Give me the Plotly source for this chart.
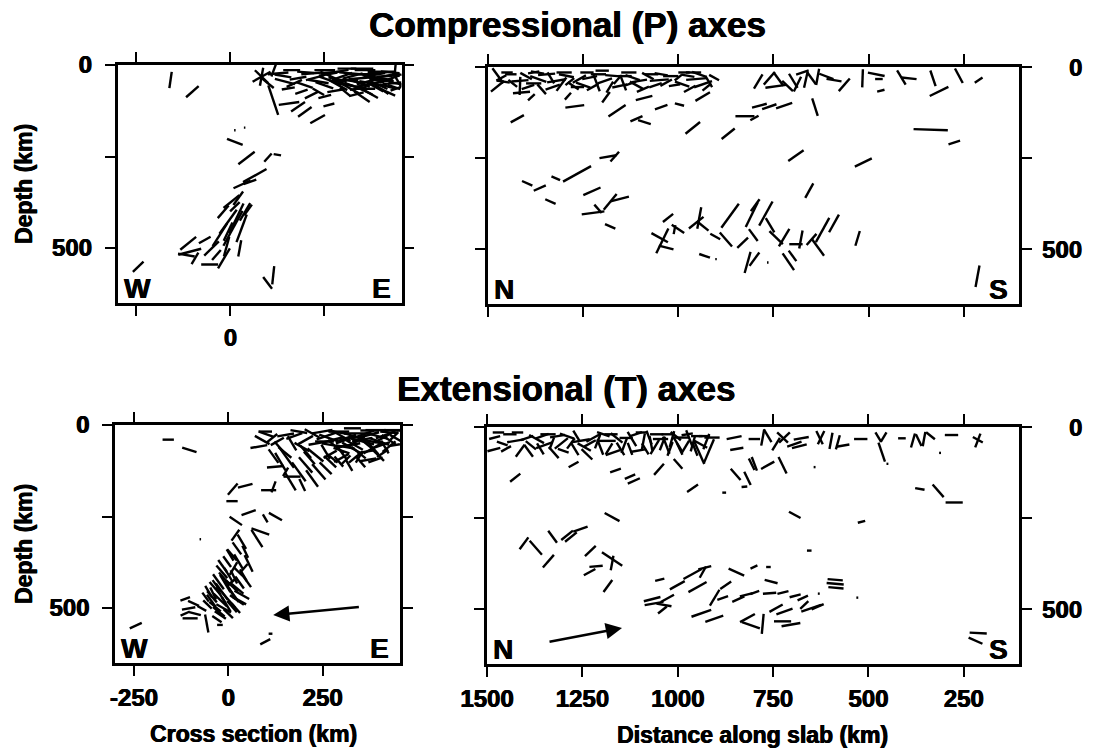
import math
import plotly.graph_objects as go

# ---------------- data (x or distance km, depth km, projected angle deg, length km) ----------
# Compressional (P) axes, cross section (W-E)
p_cross = [
    (127,23,5,55),(145,45,-15,55),(163,14,0,45),(180,36,10,45),(198,55,-20,45),(216,23,5,55),
    (234,45,-10,55),(251,14,0,55),(269,32,-25,65),(287,55,-30,55),(287,18,10,55),(305,41,0,70),
    (322,23,-5,65),(331,59,-20,55),(349,36,5,70),(358,14,0,55),(375,50,-10,65),(384,27,10,55),
    (402,41,-5,65),(411,18,0,55),(420,59,-15,45),(429,36,20,45),(438,14,85,35),(446,45,-60,35),
    (305,73,-40,35),(340,64,10,45),(234,73,-30,35),(154,64,10,35),(189,73,20,35),(251,86,15,35),
    (365,45,15,60),(395,55,-25,50),(420,30,5,60),(440,50,-10,40),(300,30,20,50),(330,45,-10,60),
    (260,40,-20,50),(355,70,-25,50),
    (270,20,5,60),(300,50,-15,60),(320,65,-30,50),(345,25,0,60),(360,55,10,60),(380,38,-20,60),
    (400,65,-35,50),(410,30,10,60),(430,50,5,50),(445,25,-10,30),(390,20,0,50),(310,10,0,50),
    (250,55,-20,50),(225,35,15,50),(200,20,-5,45),(170,50,25,45),(140,30,-10,45),(115,15,70,35),
    (100,50,-40,40),(375,80,-30,40),(420,75,-25,40),(335,80,15,40),(280,70,10,45),(440,65,20,30),
    (350,10,0,60),
    (260,25,10,50),(285,40,-15,50),(310,55,-10,55),(325,30,15,55),(345,50,-20,55),(370,25,0,55),
    (385,60,-30,50),(405,45,10,55),(425,20,-5,50),(435,60,-20,35),(395,35,-10,55),(360,65,0,50),
    (83,32,30,55),(83,32,-45,50),(83,32,80,50),(114,96,-72,85),(156,105,8,55),(180,114,35,45),
    (198,128,37,45),(232,148,30,45),(216,82,27,40),(262,109,15,30),(350,87,-35,50),
    (31,326,25,50),(65,302,30,72),(52,319,20,36),
    (-17,528,60,63),(7,446,62,108),(16,419,65,90),(-6,428,55,80),(-28,464,58,72),(30,446,70,80),
    (39,401,60,55),(3,373,40,55),(21,364,55,45),(-50,501,45,55),(-108,510,15,63),(-112,487,40,55),
    (-117,519,-10,45),(-55,545,0,45),(-94,528,60,36),(-10,496,75,55),(25,501,80,45),(-37,519,50,36),
    (-19,401,50,45),(47,396,55,36),(-68,478,30,36),(-6,455,65,55),(12,387,45,36),
    (-159,41,82,45),(-101,73,42,45),(12,178,0,4),(38,171,0,4),(12,210,-22,45),(43,254,38,55),
    (100,253,49,30),(125,245,-10,20),(-245,551,45,40),(99,595,-54,40),(114,574,84,50),
]

# Compressional (P) axes, distance along slab (N-S)
p_slab = [
    (1474,24,-55,50),(1475,53,40,45),
    (1416,38,5,45),(1416,52,88,50),(1412,70,5,45),(1368,33,-20,45),(1359,61,-50,35),(1346,20,5,45),
    (1320,38,10,50),(1307,47,55,45),(1294,24,-12,40),(1276,52,-35,35),(1233,29,12,40),(1215,43,-70,50),
    (1193,38,20,40),(1172,24,-5,40),(1154,52,12,40),(1145,43,-70,45),(1102,38,10,40),(1093,61,25,35),
    (1050,36,5,50),(1032,43,30,35),(990,47,-20,40),(952,33,5,55),(935,47,20,50),(906,29,-30,30),
    (1386,83,45,25),(1290,80,50,25),(1190,83,55,35),(1090,85,15,45),(1380,45,0,40),(1440,20,0,30),
    (1260,33,30,40),(1120,29,-20,40),(1070,20,0,35),(975,24,-10,35),(1000,29,40,25),
    (1460,40,-10,35),(1450,15,0,30),(1400,25,-30,35),(1330,55,20,40),(1250,50,-20,40),(1210,20,0,40),
    (1180,55,60,35),(1130,15,0,40),(1110,50,-30,40),(1060,50,20,35),(1020,25,0,40),(960,15,0,40),
    (920,40,-60,35),(970,60,30,35),(1380,15,10,30),(1240,15,0,35),
    (1465,30,30,30),(1435,45,-40,30),(1395,55,20,35),(1370,15,-10,35),(1335,30,-60,35),(1300,15,0,40),
    (1285,40,40,30),(1265,55,0,35),(1225,55,30,35),(1200,10,0,35),(1160,35,50,30),(1140,25,0,35),
    (1125,45,20,30),(1080,25,-30,35),(1045,20,-10,35),(1010,50,10,30),(985,15,0,30),(945,20,-20,40),
    (925,55,40,30),
    (1423,142,30,40),(1272,108,8,50),(1161,120,35,55),(1110,142,25,35),(1089,151,-18,35),
    (1045,110,20,35),(997,103,-15,25),(936,81,32,45),(962,167,40,50),(869,183,40,45),
    (825,135,0,50),(800,140,30,25),
    (1185,246,10,45),(1167,246,50,35),(1322,305,-25,25),(1266,293,30,85),(1397,319,-25,30),
    (1364,332,25,35),(1336,369,-25,30),(1227,341,25,50),(1224,400,8,60),(1211,389,-50,30),
    (1179,370,52,55),(1154,362,15,50),(1179,437,-25,30),
    (1049,468,-30,50),(1042,477,65,75),(1032,495,-15,40),(1027,414,40,35),(1001,444,-35,40),
    (1010,446,80,25),(945,414,80,60),(953,427,40,50),(936,436,-40,40),(931,518,-20,30),
    (901,527,0,4),(903,465,-30,30),(864,408,55,80),(875,473,-50,50),(831,482,45,40),
    (818,536,75,60),(807,405,65,75),
    (790,40,60,45),(761,31,50,45),(737,33,-55,45),(744,53,8,55),(713,52,-45,40),(698,38,-60,45),
    (687,47,65,45),(674,15,20,35),(665,35,78,45),(650,31,-55,40),(634,27,80,45),(611,26,-22,40),
    (591,36,-10,40),(564,49,50,45),(516,31,88,50),(480,20,-12,45),(473,33,0,20),(468,65,15,20),
    (414,29,-60,45),(394,31,-6,40),(331,31,-72,45),(315,67,27,55),(263,24,-63,45),(211,36,35,25),
    (787,106,15,40),(761,109,20,40),(722,106,20,45),(641,110,-73,50),
    (337,172,-2,90),(275,207,18,32),(691,243,36,50),(514,262,27,50),(656,339,62,45),(529,470,74,42),
    (798,379,55,40),(770,402,62,75),(759,434,-60,45),(743,468,-45,50),(803,461,-55,40),
    (722,468,60,55),(691,486,0,35),(678,473,80,50),(650,473,50,40),(633,495,-55,55),
    (621,447,62,75),(591,429,62,55),(800,527,55,45),(765,536,0,4),(711,534,-57,55),
    (700,518,-55,35),(214,574,80,60),
]

# Extensional (T) axes, cross section (W-E)
t_cross = [
    (-159,40,0,30),(-103,68,-18,40),(45,166,15,40),(12,175,50,40),(10,208,0,30),(-74,312,0,4),
    (54,239,20,40),(20,262,-35,40),(76,310,-58,55),(85,291,-20,50),(125,250,-30,40),(98,255,-60,25),
    (54,378,-65,50),(-57,542,-80,50),(-22,546,0,15),(-245,548,25,35),(98,592,28,30),(112,570,0,10),
    (36,319,-60,45),(23,337,-55,40),(45,346,-65,36),(10,355,-50,40),(27,373,-60,45),(-3,373,-55,36),
    (14,392,60,40),(-17,401,-50,45),(1,410,-60,45),(27,401,-45,36),(-26,428,-55,50),(-8,433,-60,55),
    (10,428,40,36),(-35,446,-50,45),(-17,455,-55,55),(5,451,-60,55),(23,446,-40,45),(36,464,-30,45),
    (-43,469,-50,40),(-21,478,-45,50),(1,478,-50,55),(23,478,-35,45),(-35,496,-40,40),(-12,501,-30,45),
    (10,496,-50,40),(-21,519,-35,36),(-52,455,-60,36),(50,428,-55,36),(41,392,50,32),(19,301,55,36),
    (-30,440,-55,40),(-10,420,-50,45),(15,415,-65,40),(30,430,-55,40),(-45,480,-55,40),(-5,490,-60,45),
    (15,465,-55,45),(-25,510,-40,40),(0,515,-45,35),(30,480,-30,40),(-40,460,-65,36),(40,410,-60,36),
    (-15,385,-55,40),(5,355,-60,36),(-55,490,-45,32),(-30,530,-35,30),(20,500,-50,35),(-60,470,-55,30),
    (10,440,-45,45),(-20,465,-60,50),
    (-114,475,20,27),(-92,487,-25,32),(-105,501,10,36),(-88,515,-15,32),(-101,528,0,40),
    (-70,501,-30,27),(-114,515,25,27),
    (81,59,10,45),(90,41,-30,45),(98,18,0,36),(116,36,40,36),(134,59,-50,36),(152,27,10,45),
    (169,50,-60,45),(187,18,-10,45),(205,41,30,45),(222,23,-30,45),
    (100,25,-20,40),(130,45,30,40),(150,75,-40,45),(175,30,20,45),(195,60,-30,45),(215,90,-50,45),
    (235,50,10,45),(120,85,-55,45),
    (125,114,5,45),(138,100,-60,55),(156,91,-55,63),(169,141,0,45),(165,155,-60,55),(187,128,-55,63),
    (205,109,-50,55),(196,164,-65,36),(107,178,0,40),(120,169,70,32),(222,146,-55,55),(240,128,-50,55),
    (258,118,-45,45),(152,128,60,27),(205,73,-50,45),(231,82,-40,55),
    (249,18,10,55),(267,36,-20,55),(285,59,-40,55),(293,18,0,55),(302,77,-55,45),(311,41,20,55),
    (329,64,-30,63),(338,23,0,63),(347,87,60,36),(356,45,-15,63),(373,27,15,55),(382,64,30,55),
    (391,14,0,55),(400,45,-20,55),(417,27,20,55),(426,59,40,45),(435,14,0,45),(444,36,-30,36),
    (276,91,-40,36),(311,96,45,36),(364,73,10,45),(258,73,-60,45),(293,100,-50,36),(329,9,0,45),
    (409,77,35,36),(340,45,30,50),(310,60,-10,50),(370,55,-40,45),(280,40,15,50),
    (260,30,20,55),(275,55,-10,55),(300,30,-30,55),(320,55,10,60),(345,75,-40,50),(360,25,20,55),
    (380,45,-10,55),(395,80,-45,50),(410,35,30,50),(425,20,-5,45),(440,55,10,30),(350,100,-50,40),
    (320,110,-60,35),(300,90,30,45),(270,100,-45,45),(390,95,20,40),(415,60,-60,40),(330,30,-20,55),
    (370,95,10,45),(440,30,45,30),
    (255,45,0,50),(290,20,-10,50),(315,35,20,50),(335,55,-30,50),(355,40,10,55),(375,15,0,50),
    (395,30,-15,55),(405,55,20,50),(425,40,-35,45),(385,65,-50,40),(335,90,40,40),(300,70,-20,45),
    (270,80,30,40),(445,15,0,25),
]

# Extensional (T) axes, distance along slab (N-S)
t_slab = [
    (1480,29,15,30),(1482,62,15,35),(1425,38,10,45),(1413,65,55,40),(1391,65,-55,40),
    (1370,33,-30,45),(1350,50,20,45),(1340,20,0,40),(1325,70,-50,40),(1305,45,40,45),(1290,25,-20,40),
    (1270,60,-60,40),(1255,38,10,50),(1238,75,-45,40),(1220,29,30,45),(1203,55,-70,45),(1185,38,0,45),
    (1170,70,20,40),(1160,30,-40,40),(1140,50,70,45),(1120,33,-60,45),(1105,65,10,40),(1090,40,80,45),
    (1075,29,-70,40),(1060,55,60,45),(1045,33,0,40),(1030,50,-70,50),(1015,33,75,45),(1000,47,-60,45),
    (990,29,0,40),(980,55,60,40),(940,47,-30,40),(925,40,70,45),(910,29,0,40),(944,69,-67,70),
    (918,66,68,70),(852,29,12,40),(845,60,10,35),
    (1460,45,-20,30),(1440,20,0,35),(1395,30,20,35),(1360,60,-60,35),(1315,25,10,40),(1280,45,55,35),
    (1245,55,-30,40),(1210,40,70,40),(1175,20,0,35),(1150,60,-60,40),(1110,20,20,35),(1070,45,-80,40),
    (1055,20,0,35),(1020,60,70,40),(1005,25,-40,35),(970,30,-70,45),(960,45,75,45),(950,25,0,30),
    (1470,15,0,30),(1450,60,30,30),(1420,15,0,30),(1385,50,-40,35),(1355,25,20,35),(1330,45,70,35),
    (1300,65,-20,30),(1265,25,-60,35),(1230,45,30,35),(1195,20,-20,35),(1180,60,60,35),(1135,30,0,35),
    (1125,60,-70,35),(1095,15,0,30),(1085,60,-60,35),(1040,45,70,40),(1025,20,0,35),(995,60,-65,35),
    (975,20,10,30),(955,60,-70,40),(930,25,0,30),
    (1426,139,40,35),(1273,103,30,30),(1163,119,20,30),(1125,136,25,30),(1115,148,25,35),
    (1049,116,50,40),(999,101,-50,35),(961,168,35,35),(878,180,0,10),(848,130,-50,40),
    (817,141,-65,40),(806,102,-65,35),(825,164,5,15),
    (1172,247,-30,45),(1403,319,55,40),(1372,331,-50,50),(1328,301,-55,40),(1339,368,50,45),
    (1290,297,40,40),(1280,302,40,40),(1255,280,20,40),(1229,340,45,40),(1231,398,30,35),
    (1214,382,5,35),(1172,362,-35,65),(1172,373,80,40),(1183,436,55,40),
    (1067,472,15,45),(1062,484,10,50),(1036,488,-10,40),(1040,502,40,30),(1027,470,30,40),
    (1047,419,15,25),(1001,434,30,45),(961,403,30,55),(929,386,15,35),(934,398,62,35),
    (948,439,30,55),(938,511,20,55),(904,526,20,50),(903,468,60,50),(874,434,35,35),
    (882,469,20,30),(846,398,-25,45),(841,472,25,35),(820,460,15,35),(817,524,30,45),(808,544,-20,50),
    (799,33,0,30),(777,29,80,45),(764,24,-60,40),(742,47,60,40),(725,29,-45,40),(720,29,45,40),
    (694,47,20,40),(676,31,10,40),(681,53,15,40),(628,29,-65,40),(624,29,65,40),(598,38,80,45),
    (580,42,75,40),(567,51,10,35),
    (799,101,-70,40),(764,105,30,40),(725,105,-65,50),(641,110,0,5),
    (520,33,0,35),(474,28,-60,30),(460,28,60,30),(465,69,-72,55),(450,101,0,5),
    (412,31,0,20),(383,37,75,40),(368,36,-65,35),(354,33,80,40),(337,24,-40,30),(312,71,0,5),
    (282,22,0,35),(213,37,70,40),(213,35,-30,30),
    (365,170,-10,25),(317,175,-50,45),(275,207,0,45),(693,241,-30,35),(518,260,15,20),(655,339,0,12),
    (800,384,25,20),(762,384,0,12),(755,424,-15,35),(798,454,20,25),(759,456,5,35),(724,454,15,30),
    (692,463,15,30),(672,469,25,30),(630,457,0,5),(587,430,-5,45),(587,419,-5,40),(585,441,-5,40),
    (529,468,0,5),
    (742,497,30,40),(720,506,20,45),(650,497,20,55),(668,488,45,30),(633,493,25,35),
    (725,533,0,45),(703,542,10,50),(777,540,85,55),
    (212,565,-3,45),(219,586,-25,40),
]

# slab-direction arrows (tail x, tail depth, head x, head depth)
arrow_cross = (350, 497, 119, 519)
arrow_slab = (1340, 590, 1146, 551)

# tick values / labels
cross_ticks = [-250, 0, 250]
slab_ticks = [1500, 1250, 1000, 750, 500, 250]
depth_ticks = [0, 250, 500]
depth_labels = ["0", "", "500"]

FONT = "Liberation Sans, Arial, Helvetica, sans-serif"
SHADOW = "0.6px 0 0 black, -0.3px 0 0 black"


def seg_trace(rows, xsign, xa, ya):
    xs, ys = [], []
    for x, d, a, L in rows:
        r = math.radians(a)
        hx = L / 2 * math.cos(r) * xsign
        hy = L / 2 * math.sin(r)
        xs += [x - hx, x + hx, None]
        ys += [d + hy, d - hy, None]
    return go.Scatter(x=xs, y=ys, mode="lines", xaxis=xa, yaxis=ya,
                      line=dict(color="black", width=2.4), hoverinfo="skip", showlegend=False)


fig = go.Figure()
fig.add_trace(seg_trace(p_cross, 1, "x", "y"))
fig.add_trace(seg_trace(p_slab, -1, "x2", "y2"))
fig.add_trace(seg_trace(t_cross, 1, "x3", "y3"))
fig.add_trace(seg_trace(t_slab, -1, "x4", "y4"))

W, H = 1096, 753


def dom_x(a, b):
    return [a / W, b / W]


def dom_y(top, bot):
    return [1 - bot / H, 1 - top / H]


def bold(s):
    return dict(family=FONT, size=s, color="black", weight="bold", shadow=SHADOW)


tickfont = bold(24)
axis_common = dict(showline=True, linecolor="black", linewidth=2.5, mirror="ticks",
                   ticks="outside", ticklen=10, tickwidth=2, tickcolor="black",
                   showgrid=False, zeroline=False, tickfont=tickfont, automargin=False)

fig.update_layout(
    width=W, height=H, margin=dict(l=0, r=0, t=0, b=0, autoexpand=False),
    paper_bgcolor="white", plot_bgcolor="white", showlegend=False,
    xaxis=dict(domain=dom_x(117.5, 401.5), range=[-300, 455], anchor="y",
               tickvals=cross_ticks, ticktext=["", "0", ""], ticklabelstandoff=1, **axis_common),
    yaxis=dict(domain=dom_y(65, 303), range=[650, 0], anchor="x",
               tickvals=depth_ticks, ticktext=depth_labels, ticklabelstandoff=8, **axis_common),
    xaxis2=dict(domain=dom_x(488, 1019), range=[1500, 105], anchor="y2",
                tickvals=slab_ticks, showticklabels=False, **axis_common),
    yaxis2=dict(domain=dom_y(67, 304), range=[650, 0], anchor="x2", side="right",
                tickvals=depth_ticks, showticklabels=False, **axis_common),
    xaxis3=dict(domain=dom_x(115, 400), range=[-300, 455], anchor="y3",
                tickvals=cross_ticks, ticktext=["-250", "0", "250"], ticklabelstandoff=1, **axis_common),
    yaxis3=dict(domain=dom_y(425, 663), range=[650, 0], anchor="x3",
                tickvals=depth_ticks, ticktext=depth_labels, ticklabelstandoff=8, **axis_common),
    xaxis4=dict(domain=dom_x(487, 1019), range=[1500, 105], anchor="y4",
                tickvals=slab_ticks, ticktext=[str(v) for v in slab_ticks], ticklabelstandoff=1, **axis_common),
    yaxis4=dict(domain=dom_y(427, 664), range=[650, 0], anchor="x4", side="right",
                tickvals=depth_ticks, showticklabels=False, **axis_common),
)

ann = []
ann.append(dict(text="Compressional (P) axes", x=567 / W, y=1 - 25 / H, xref="paper", yref="paper",
                showarrow=False, font=bold(35), xanchor="center", yanchor="middle"))
ann.append(dict(text="Extensional (T) axes", x=566 / W, y=1 - 388 / H, xref="paper", yref="paper",
                showarrow=False, font=bold(35), xanchor="center", yanchor="middle"))
for yc in (184, 544):
    ann.append(dict(text="Depth (km)", x=24 / W, y=1 - yc / H, xref="paper", yref="paper",
                    textangle=-90, showarrow=False, font=bold(23), xanchor="center", yanchor="middle"))
ann.append(dict(text="Cross section (km)", x=253 / W, y=1 - 734 / H, xref="paper", yref="paper",
                showarrow=False, font=bold(23), xanchor="center", yanchor="middle"))
ann.append(dict(text="Distance along slab (km)", x=752 / W, y=1 - 735 / H, xref="paper", yref="paper",
                showarrow=False, font=bold(23), xanchor="center", yanchor="middle"))

# right-hand depth labels (right-aligned, as in the original)
for ya in ("y2", "y4"):
    for v, t in zip(depth_ticks, depth_labels):
        if t:
            ann.append(dict(text=t, xref="paper", yref=ya, x=1084 / W, y=v, xanchor="right",
                            yanchor="middle", showarrow=False, font=bold(24)))

# compass letters
for xa, ya, left, right in (("x", "y", "W", "E"), ("x2", "y2", "N", "S"),
                            ("x3", "y3", "W", "E"), ("x4", "y4", "N", "S")):
    ann.append(dict(text=left, xref=xa + " domain", yref=ya + " domain", x=0, y=0,
                    xanchor="left", yanchor="bottom", xshift=4, yshift=-3,
                    showarrow=False, font=bold(28)))
    ann.append(dict(text=right, xref=xa + " domain", yref=ya + " domain", x=1, y=0,
                    xanchor="right", yanchor="bottom", xshift=-9, yshift=-3,
                    showarrow=False, font=bold(28)))

for (tx, td, hx, hd), xa, ya in ((arrow_cross, "x3", "y3"), (arrow_slab, "x4", "y4")):
    ann.append(dict(x=hx, y=hd, ax=tx, ay=td, xref=xa, yref=ya, axref=xa, ayref=ya,
                    text="", showarrow=True, arrowhead=2, arrowsize=1.3, arrowwidth=2.5,
                    arrowcolor="black"))

fig.update_layout(annotations=ann)
fig.write_html("out.html")
